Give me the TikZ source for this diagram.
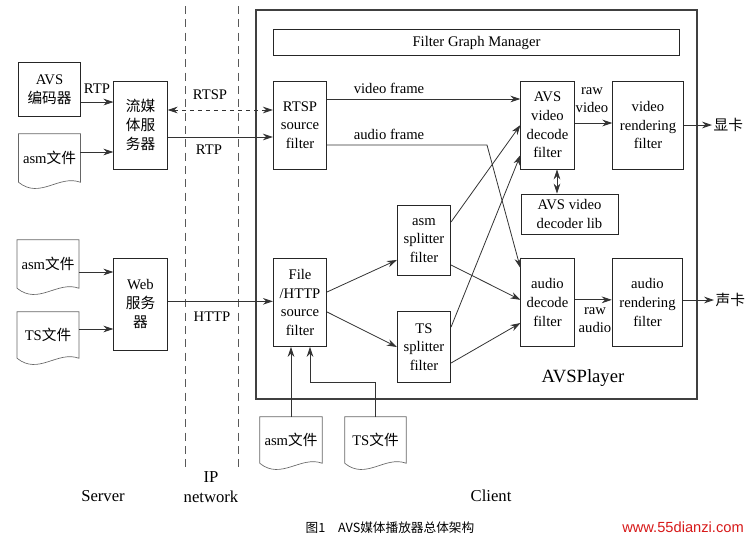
\documentclass[tikz,border=0pt]{standalone}
\usepackage{fontspec}
\setmainfont{Liberation Serif}
\newfontfamily\cjk{Noto Sans CJK SC}
\newfontfamily\wmfont{Liberation Sans}
\usetikzlibrary{calc, arrows, arrows.meta}
\newcommand{\lbl}{\fontsize{11}{14}\selectfont}
\newcommand{\biglbl}{\fontsize{12.5}{14.5}\selectfont}
\tikzstyle{blk} = [draw, black!85, text=black, line width=0.6pt, align=center, font=\lbl, minimum width=40pt, minimum height=66pt, inner sep=1pt]
\tikzstyle{wideblk} = [blk, minimum width=53pt]
\tikzstyle{splitblk} = [blk, minimum height=53pt]
\tikzstyle{doc} = [align=center, font=\lbl, minimum width=46pt, minimum height=36pt, inner sep=0pt]
\tikzstyle{conn} = [->, >={Stealth[length=7.5pt, width=5pt]}, black!80, line width=0.6pt]
\tikzstyle{tag} = [font=\lbl, inner sep=1pt]
\newcommand{\drawdoc}[1]{\draw[black!60, line width=0.5pt] (#1.south west) -- (#1.north west) -- (#1.north east) -- (#1.south east) .. controls +(-16pt,6pt) and +(16pt,-13pt) .. (#1.south west);}

\begin{document}
\begin{tikzpicture}[x=0.75pt, y=-0.75pt]
 		\useasboundingbox (0,0) rectangle (753,540);
 		% IP network
 		\draw[black!65, line width=0.6pt, dash pattern=on 6pt off 4pt] (185,6) -- (185,470);
 		\draw[black!65, line width=0.6pt, dash pattern=on 6pt off 4pt] (238,6) -- (238,470);
 		% client frame
 		\draw[black!75, line width=1.3pt] (256,10) rectangle (697,399);
 		\node[blk, minimum width=305pt, minimum height=20pt] (fgm) at (476.5,42.5) {Filter Graph Manager};

 		% server side
 		\node[blk, minimum width=46pt, minimum height=40pt, font=\lbl] (enc) at (49.5,89.5) {AVS\\{\cjk 编码器}};
 		\node[doc] (asmS) at (49.5,158) {asm{\cjk 文件}};
 		\node[blk, font={\lbl\cjk}] (stream) at (140.5,125) {流媒\\体服\\务器};
 		\node[doc] (asmW) at (48,264) {asm{\cjk 文件}};
 		\node[doc, minimum height=34.5pt] (tsW) at (48,335) {TS{\cjk 文件}};
 		\node[blk, minimum height=69pt] (web) at (140.5,304) {Web\\{\cjk 服务}\\{\cjk 器}};
 		\drawdoc{asmS}
 		\drawdoc{asmW}
 		\drawdoc{tsW}

 		% client side
 		\node[blk] (rtsp) at (300,125) {RTSP\\source\\filter};
 		\node[blk] (file) at (300,302.5) {File\\/HTTP\\source\\filter};
 		\node[splitblk] (asmsp) at (424,240.5) {asm\\splitter\\filter};
 		\node[splitblk] (tssp) at (424,347) {TS\\splitter\\filter};
 		\node[blk] (vdec) at (547.5,125) {AVS\\video\\decode\\filter};
 		\node[blk] (adec) at (547.5,302.5) {audio\\decode\\filter};
 		\node[wideblk] (vrend) at (648,125) {video\\rendering\\filter};
 		\node[wideblk] (arend) at (647.5,302.5) {audio\\rendering\\filter};
 		\node[blk, minimum width=72.75pt, minimum height=30pt] (lib) at (569.5,214) {AVS video\\decoder lib};
 		\node[tag, anchor=west, font={\lbl\cjk}] (xian) at (712,125) {显卡};
 		\node[tag, anchor=west, font={\lbl\cjk}] (sheng) at (714,300) {声卡};
 		\node[doc, minimum width=46.5pt, minimum height=34.5pt] (asmC) at (291,440) {asm{\cjk 文件}};
 		\node[doc, minimum width=45.75pt, minimum height=34.5pt] (tsC) at (375.5,440) {TS{\cjk 文件}};
 		\drawdoc{asmC}
 		\drawdoc{tsC}

 		% connectors
 		\draw[conn] ([yshift=-9.4pt]enc.east) -- ([yshift=-9.4pt]enc.east -| stream.west);
 		\draw[conn] ([yshift=4.5pt]asmS.east) -- ([yshift=4.5pt]asmS.east -| stream.west);
 		\draw[conn, <->, dashed] ([yshift=11.25pt]stream.east) -- ([yshift=11.25pt]stream.east -| rtsp.west);
 		\draw[conn] ([yshift=-9pt]stream.east) -- ([yshift=-9pt]stream.east -| rtsp.west);
 		\draw[conn] ([yshift=-6pt]asmW.east) -- ([yshift=-6pt]asmW.east -| web.west);
 		\draw[conn] ([yshift=4.5pt]tsW.east) -- ([yshift=4.5pt]tsW.east -| web.west);
 		\draw[conn] ([yshift=2pt]web.east) -- ([yshift=2pt]web.east -| file.west);
 		\draw[conn] ([yshift=19.5pt]rtsp.east) -- ([yshift=19.5pt]rtsp.east -| vdec.west);
 		\coordinate (abend) at (487,145);
 		\draw[conn] (rtsp.east |- abend) -- (abend) -- ([yshift=-7.5pt]adec.north west);
 		\draw[conn] ([yshift=7.9pt]file.east) -- ([yshift=-14.6pt]asmsp.west);
 		\draw[conn] ([yshift=-7.1pt]file.east) -- (tssp.west);
 		\draw[conn] ([yshift=13.9pt]asmsp.east) -- (vdec.west);
 		\draw[conn] ([yshift=15pt]tssp.east) -- ([yshift=-22.5pt]vdec.west);
 		\draw[conn] ([yshift=-18.4pt]asmsp.east) -- ([yshift=2pt]adec.west);
 		\draw[conn] ([yshift=-12pt]tssp.east) -- ([yshift=-15.4pt]adec.west);
 		\draw[conn] ([yshift=1.5pt]vdec.east) -- ([yshift=1.5pt]vdec.east -| vrend.west);
 		\draw[conn, <->] ([xshift=7.1pt]vdec.south) -- ([xshift=7.1pt]vdec.south |- lib.north);
 		\draw[conn] (vrend.east) -- (xian.west);
 		\draw[conn] ([yshift=2pt]adec.east) -- ([yshift=2pt]adec.east -| arend.west);
 		\draw[conn] (arend.east |- sheng.west) -- (sheng.west);
 		\draw[conn] (asmC.north) -- (asmC.north |- file.south);
 		\coordinate (tsbend) at (310,382);
 		\draw[conn] (tsC.north) |- (tsbend) -- (tsbend |- file.south);

 		% labels
 		\node[tag] (lrtp1) at (97,89) {RTP};
 		\node[tag] (lrtsp) at (210,95) {RTSP};
 		\node[tag] (lrtp2) at (209,150) {RTP};
 		\node[tag] (lhttp) at (212,317) {HTTP};
 		\node[tag] (lvf) at (389,88) {video frame};
 		\node[tag] (laf) at (389,134) {audio frame};
 		\node[tag, align=center] (lrv) at (592,100) {raw\\video};
 		\node[tag, align=center] (lra) at (595,320) {raw\\audio};
 		\node[tag, font=\fontsize{14}{16}\selectfont] (lplayer) at (583,378) {AVSPlayer};
 		\node[tag, font=\biglbl] (lserver) at (103,496) {Server};
 		\node[tag, font=\biglbl, align=center] (lip) at (211,487) {IP\\network};
 		\node[tag, font=\biglbl] (lclient) at (491,496) {Client};
 		\node[tag, font={\fontsize{9.5}{11}\cjk}] (cap) at (390,528) {图1\quad AVS媒体播放器总体架构};
 		\node[tag, font={\fontsize{11}{13}\wmfont}, text={rgb,255:red,215;green,25;blue,25}] (wm) at (683,527) {www.55dianzi.com};
 	\end{tikzpicture}
\end{document}
